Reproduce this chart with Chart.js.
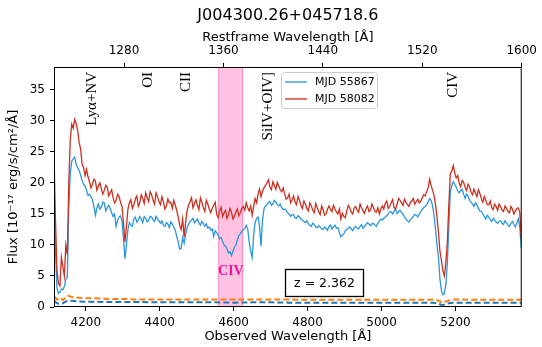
<!DOCTYPE html>
<html><head><meta charset="utf-8">
<script src="https://cdn.jsdelivr.net/npm/chart.js@4.4.0/dist/chart.umd.min.js"></script>
<style>html,body{margin:0;padding:0;background:#fff}</style>
</head><body>
<canvas id="c" width="542" height="347"></canvas>
<script>
const z = 2.362;
const wave = [4114,4122,4130,4138,4146,4154,4162,4170,4178,4186,4194,4202,4210,4218,4226,4234,4242,4250,4258,4266,4274,4282,4290,4298,4306,4314,4322,4330,4338,4346,4354,4362,4370,4378,4386,4394,4402,4410,4418,4426,4434,4442,4450,4458,4466,4474,4482,4490,4498,4506,4514,4522,4530,4538,4546,4554,4562,4570,4578,4586,4594,4602,4610,4618,4626,4634,4642,4650,4658,4666,4674,4682,4690,4698,4706,4714,4722,4730,4738,4746,4754,4762,4770,4778,4786,4794,4802,4810,4818,4826,4834,4842,4850,4858,4866,4874,4882,4890,4898,4906,4914,4922,4930,4938,4946,4954,4962,4970,4978,4986,4994,5002,5010,5018,5026,5034,5042,5050,5058,5066,5074,5082,5090,5098,5106,5114,5122,5130,5138,5146,5154,5162,5170,5178,5186,5194,5202,5210,5218,5226,5234,5242,5250,5258,5266,5274,5282,5290,5298,5306,5314,5322,5330,5338,5346,5354,5362,5370,5378];
const flux58082 = [24.7,6.0,3.4,6.5,10.0,20.0,29.5,30.3,28.5,25.5,22.5,22.2,20.2,19.8,20.3,19.5,19.1,18.8,19.3,18.4,17.6,17.2,17.8,16.2,10.5,15.8,17.3,16.5,17.9,16.8,17.5,18.4,17.0,18.1,16.6,17.8,16.5,17.0,16.3,16.8,15.9,16.4,14.5,12.5,11.3,15.5,17.0,16.0,17.3,15.7,16.9,15.4,16.6,15.2,16.4,15.0,15.5,14.6,15.6,14.9,15.3,14.6,15.8,15.2,16.2,16.8,15.5,14.8,17.5,18.2,17.8,19.2,20.0,19.3,20.2,19.0,19.5,18.6,18.2,17.6,16.8,17.9,16.5,17.2,15.9,16.6,15.5,16.3,15.2,16.0,14.9,15.7,15.0,16.3,15.4,15.8,15.0,14.2,14.6,15.5,16.0,15.0,16.2,15.3,16.0,15.1,16.3,15.6,16.1,15.3,15.0,16.3,16.7,15.9,16.8,16.0,16.6,17.2,16.4,16.9,16.2,17.1,16.6,17.4,17.0,18.1,18.6,20.6,18.8,16.5,12.0,7.5,5.0,10.5,21.5,22.8,20.8,20.0,20.4,19.3,19.8,18.5,19.0,17.8,18.3,16.9,17.2,16.5,16.0,16.6,15.6,16.2,15.4,15.9,15.2,15.8,15.5,16.0,11.0];
const flux55867 = [16.5,3.0,2.4,2.8,4.5,16.0,23.5,24.2,22.5,21.3,19.8,18.8,18.2,17.3,14.8,16.6,16.1,16.8,16.0,15.9,14.6,13.0,14.5,13.8,7.8,12.5,13.2,14.2,13.7,14.6,13.6,14.3,14.0,14.5,13.8,14.2,13.5,13.2,13.6,12.8,13.4,12.4,10.5,9.5,10.3,12.8,13.8,14.3,13.9,13.5,13.8,13.0,12.7,12.4,11.4,12.0,11.0,10.6,9.8,8.7,8.3,9.6,10.8,11.8,12.5,13.2,10.5,8.0,13.6,14.5,9.8,15.8,16.5,17.0,16.6,16.9,16.3,16.0,15.8,15.2,14.6,14.9,14.3,14.5,14.0,13.6,13.4,13.0,13.3,12.8,12.9,12.5,12.7,13.0,12.6,13.2,12.8,11.3,11.8,12.5,12.9,12.3,13.0,12.6,13.3,13.0,13.6,13.1,13.5,13.0,13.8,14.0,14.5,15.0,15.3,15.5,15.1,15.6,15.0,14.2,13.7,14.3,14.9,14.5,15.4,16.0,16.5,17.5,16.4,12.5,8.0,2.6,2.2,7.0,18.5,20.2,19.3,18.4,19.0,17.5,17.9,16.9,16.2,16.5,15.5,15.0,14.2,14.5,13.8,14.0,13.5,13.9,13.3,13.6,13.0,13.8,12.9,14.2,9.5];
const waveMid = [4118,4126,4134,4142,4150,4158,4166,4174,4182,4190,4198,4206,4214,4222,4230,4238,4246,4254,4262,4270,4278,4286,4294,4302,4310,4318,4326,4334,4342,4350,4358,4366,4374,4382,4390,4398,4406,4414,4422,4430,4438,4446,4454,4462,4470,4478,4486,4494,4502,4510,4518,4526,4534,4542,4550,4558,4566,4574,4582,4590,4598,4606,4614,4622,4630,4638,4646,4654,4662,4670,4678,4686,4694,4702,4710,4718,4726,4734,4742,4750,4758,4766,4774,4782,4790,4798,4806,4814,4822,4830,4838,4846,4854,4862,4870,4878,4886,4894,4902,4910,4918,4926,4934,4942,4950,4958,4966,4974,4982,4990,4998,5006,5014,5022,5030,5038,5046,5054,5062,5070,5078,5086,5094,5102,5110,5118,5126,5134,5142,5150,5158,5166,5174,5182,5190,5198,5206,5214,5222,5230,5238,5246,5254,5262,5270,5278,5286,5294,5302,5310,5318,5326,5334,5342,5350,5358,5366,5374];
const fluxMid58082 = [14.0,3.8,8.0,5.0,8.5,27.0,28.8,29.6,26.5,23.0,21.2,21.0,19.2,20.6,18.8,20.0,18.2,19.6,17.9,18.9,16.8,18.2,16.9,13.5,13.0,16.8,15.9,17.4,16.2,18.1,16.7,17.6,18.6,17.2,18.4,17.0,17.8,15.8,17.4,16.9,17.2,15.6,13.2,14.2,13.6,16.4,17.6,16.7,16.4,17.6,16.0,17.2,15.8,15.9,16.9,14.4,16.1,15.2,14.3,15.9,14.2,15.3,14.7,15.9,15.6,16.0,16.3,16.2,16.8,19.0,18.7,19.6,20.5,18.9,19.6,20.1,18.9,19.2,17.4,18.2,17.3,16.9,17.8,16.4,17.1,15.9,16.8,15.6,16.7,15.4,16.3,14.8,15.8,15.7,16.4,15.3,15.8,15.1,14.4,16.4,15.3,16.0,15.6,16.6,15.5,15.9,15.4,16.6,15.4,16.0,15.8,15.8,17.1,16.2,17.3,15.8,17.5,16.8,17.4,16.5,16.9,17.5,17.0,16.8,17.6,17.9,19.2,19.6,18.0,14.5,9.0,5.8,7.2,16.5,21.9,21.6,21.2,19.4,20.1,18.8,19.4,18.1,18.4,18.9,17.5,17.8,16.5,17.1,15.7,16.2,16.6,15.6,16.3,15.4,16.2,15.0,15.9,15.3];
const fluxMid55867 = [9.0,2.2,2.9,3.3,4.8,21.5,23.9,23.0,22.0,20.4,19.5,18.0,17.8,16.2,16.0,15.8,16.9,15.5,16.4,15.2,15.0,14.0,14.7,11.0,10.0,13.6,13.0,14.5,14.0,14.2,14.6,13.7,14.6,14.1,14.6,13.9,13.9,13.0,13.4,13.7,12.9,11.4,9.3,11.2,11.7,13.4,14.0,13.6,14.2,13.2,13.5,13.4,12.9,12.6,12.3,11.6,11.2,10.0,9.4,8.9,9.0,10.0,11.5,12.2,12.6,12.6,9.0,11.6,14.3,13.0,14.0,16.3,16.8,16.4,17.2,16.5,16.6,15.7,15.6,15.0,14.9,14.4,14.7,14.2,13.8,13.9,13.2,13.5,12.9,13.1,12.6,12.9,12.4,13.2,12.9,12.7,12.0,11.6,12.3,12.7,12.6,12.8,12.7,13.0,12.7,13.3,13.4,13.4,13.2,13.5,14.2,14.3,14.7,15.4,15.0,15.8,15.4,15.2,14.5,13.9,14.1,14.6,14.8,15.0,15.7,16.2,16.9,17.2,14.8,10.0,4.5,2.0,3.6,13.0,19.6,19.8,18.7,18.8,18.2,18.2,17.2,16.6,16.8,15.9,15.4,14.6,14.8,14.1,14.3,13.7,13.8,13.5,13.9,13.2,13.5,13.3,13.6,12.8];
const errWave = [4114,4122,4130,4138,4146,4154,4162,4180,4200,4230,4260,4300,4350,4400,4450,4500,4550,4600,4650,4700,4750,4800,4850,4900,4950,5000,5050,5100,5140,5155,5165,5175,5190,5220,5260,5300,5340,5378];
const err58082 = [1.7,1.2,1.5,1.1,1.6,1.8,1.6,1.5,1.4,1.4,1.3,1.3,1.2,1.2,1.2,1.2,1.2,1.2,1.2,1.2,1.2,1.15,1.15,1.15,1.15,1.15,1.15,1.15,1.2,1.0,0.7,0.9,1.2,1.2,1.15,1.15,1.15,1.15];
const err55867 = [1.0,0.6,0.5,0.6,0.9,1.0,1.0,0.9,0.85,0.85,0.8,0.8,0.8,0.75,0.75,0.75,0.75,0.7,0.75,0.75,0.7,0.7,0.7,0.7,0.7,0.7,0.7,0.7,0.7,0.5,0.3,0.5,0.7,0.7,0.7,0.7,0.7,0.7];
const xTicks = [4200,4400,4600,4800,5000,5200];
const restTicks = [1280,1360,1440,1520,1600];
const yTicks = [0,5,10,15,20,25,30,35];
const lineNames = ['Lyα+NV','OI','CII','SiIV+OIV]','CIV'];
const lineRest = [1254.5,1299,1330,1396.3,1544.7];
const lineLabelY = 37.9;
const bandRest = [1356,1376];
const bandLabel = 'CIV';
const bandLabelY = 5.8;
const seriesNames = ['MJD 55867','MJD 58082'];
const xMin = 4114, xMax = 1600*(1+z);
const yMax = 38.7;

const C_BLUE = '#2b96dd', C_RED = '#cd2f1f';
const pts = (xs, ys) => xs.map((v,i)=>({x:v,y:ys[i]}));
const merged = (w1,f1,w2,f2) => pts(w1,f1).concat(pts(w2,f2)).sort((a,b)=>a.x-b.x);

const annot = {
  id:'annot',
  beforeDatasetsDraw(chart){
    const {ctx, chartArea:a, scales:{x}} = chart;
    const x0 = x.getPixelForValue(bandRest[0]*(1+z)), x1 = x.getPixelForValue(bandRest[1]*(1+z));
    ctx.save();
    ctx.fillStyle='rgba(255,105,180,0.4)';
    ctx.fillRect(x0,a.top,x1-x0,a.bottom-a.top);
    ctx.strokeStyle='rgba(255,105,180,0.6)'; ctx.lineWidth=1;
    ctx.beginPath();
    ctx.moveTo(Math.round(x0)+0.5,a.top); ctx.lineTo(Math.round(x0)+0.5,a.bottom);
    ctx.moveTo(Math.round(x1)-0.5,a.top); ctx.lineTo(Math.round(x1)-0.5,a.bottom);
    ctx.stroke();
    ctx.restore();
  },
  afterDraw(chart){
    const {ctx, chartArea:a, scales:{x,y}} = chart;
    ctx.save();
    ctx.strokeStyle='#000'; ctx.lineWidth=1;
    ctx.strokeRect(a.left+0.5,a.top+0.5,a.right-a.left-1,a.bottom-a.top-1);
    const cx = (a.left+a.right)/2;
    ctx.fillStyle='#000';
    ctx.textAlign='center'; ctx.textBaseline='alphabetic';
    ctx.font='16px "DejaVu Sans"';
    ctx.fillText('J004300.26+045718.6', cx, 19.5);
    ctx.font='13px "DejaVu Sans"';
    ctx.fillText('Restframe Wavelength [Å]', cx, 40.5);
    ctx.fillText('Observed Wavelength [Å]', cx, 340);
    ctx.save();
    ctx.translate(17, (a.top+a.bottom)/2);
    ctx.rotate(-Math.PI/2);
    ctx.fillText('Flux [10⁻¹⁷ erg/s/cm²/Å]', 0, 0);
    ctx.restore();
    ctx.font='15px "Liberation Serif"';
    lineNames.forEach((n,i)=>{
      const px = x.getPixelForValue(lineRest[i]*(1+z));
      const py = y.getPixelForValue(lineLabelY);
      ctx.save(); ctx.translate(px,py); ctx.rotate(-Math.PI/2);
      ctx.textAlign='right'; ctx.textBaseline='middle';
      ctx.fillText(n,0,0); ctx.restore();
    });
    ctx.font='bold 14px "Liberation Serif"';
    ctx.fillStyle='#f0149a'; ctx.textAlign='center'; ctx.textBaseline='middle';
    ctx.fillText(bandLabel, x.getPixelForValue((bandRest[0]+bandRest[1])/2*(1+z)), y.getPixelForValue(bandLabelY));
    const lx=281, ly=72, lw=96, lh=36;
    ctx.fillStyle='rgba(255,255,255,0.85)'; ctx.strokeStyle='#cccccc'; ctx.lineWidth=1;
    ctx.beginPath();
    if (ctx.roundRect) ctx.roundRect(lx+0.5,ly+0.5,lw,lh,3); else ctx.rect(lx+0.5,ly+0.5,lw,lh);
    ctx.fill(); ctx.stroke();
    ctx.font='11px "DejaVu Sans"'; ctx.textAlign='left'; ctx.textBaseline='middle';
    [[C_BLUE,82],[C_RED,99]].forEach(([c,yy],i)=>{
      ctx.strokeStyle=c; ctx.lineWidth=1.3;
      ctx.beginPath(); ctx.moveTo(285,yy); ctx.lineTo(307,yy); ctx.stroke();
      ctx.fillStyle='#000'; ctx.fillText(seriesNames[i],315,yy+0.5);
    });
    ctx.fillStyle='#fff'; ctx.strokeStyle='#000'; ctx.lineWidth=1.3;
    ctx.fillRect(285.5,269.5,78,27); ctx.strokeRect(285.5,269.5,78,27);
    ctx.fillStyle='#000'; ctx.font='12.5px "DejaVu Sans"'; ctx.textAlign='center'; ctx.textBaseline='alphabetic';
    ctx.fillText('z = '+z.toFixed(3), 324.5, 287);
    ctx.restore();
  }
};

const tickFont = {family:'DejaVu Sans', size:12};
const gridOpt = {display:true, drawOnChartArea:false, drawTicks:true, tickLength:4, color:'#000', lineWidth:1};

new Chart(document.getElementById('c'), {
  type:'line',
  data:{datasets:[
    {label:seriesNames[1], data:merged(wave,flux58082,waveMid,fluxMid58082), borderColor:C_RED, borderWidth:1.3, pointRadius:0, tension:0, order:1},
    {label:seriesNames[0], data:merged(wave,flux55867,waveMid,fluxMid55867), borderColor:C_BLUE, borderWidth:1.3, pointRadius:0, tension:0, order:2},
    {label:'err 58082', data:pts(errWave,err58082), borderColor:'#ff7f0e', borderWidth:2, borderDash:[6,3], pointRadius:0, tension:0, order:3},
    {label:'err 55867', data:pts(errWave,err55867), borderColor:'#1f77b4', borderWidth:2, borderDash:[6,3], pointRadius:0, tension:0, order:4}
  ]},
  options:{
    responsive:false, animation:false, devicePixelRatio:1,
    layout:{padding:{left:0,right:15,top:0,bottom:0}},
    plugins:{legend:{display:false}, tooltip:{enabled:false}, title:{display:false}},
    scales:{
      x:{type:'linear', position:'bottom', min:xMin, max:xMax,
        afterBuildTicks:s=>{s.ticks = xTicks.map(v=>({value:v}));},
        afterFit:s=>{s.height=40;},
        ticks:{font:tickFont, color:'#000', padding:5, maxRotation:0, minRotation:0, autoSkip:false, callback:v=>String(v)},
        grid:gridOpt, border:{display:false}},
      x2:{type:'linear', position:'top', min:xMin/(1+z), max:xMax/(1+z),
        afterBuildTicks:s=>{s.ticks = restTicks.map(v=>({value:v}));},
        afterFit:s=>{s.height=67;},
        ticks:{font:tickFont, color:'#000', padding:5, maxRotation:0, minRotation:0, autoSkip:false, callback:v=>String(v)},
        grid:gridOpt, border:{display:false}},
      y:{type:'linear', position:'left', min:0, max:yMax,
        afterBuildTicks:s=>{s.ticks = yTicks.map(v=>({value:v}));},
        afterFit:s=>{s.width=54;},
        ticks:{font:tickFont, color:'#000', padding:5, autoSkip:false, callback:v=>String(v)},
        grid:gridOpt, border:{display:false}}
    }
  },
  plugins:[annot]
});
</script>
</body></html>
